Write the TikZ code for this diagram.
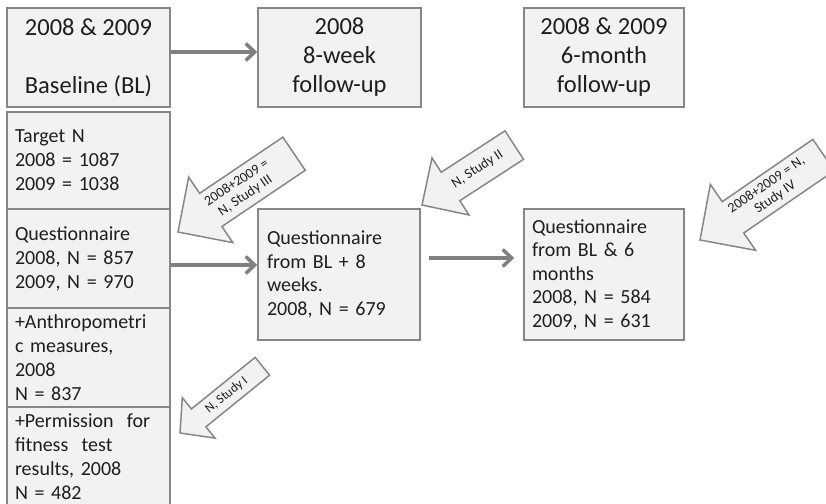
\documentclass[tikz,border=0pt]{standalone}
\usepackage{fontspec}
\setmainfont{Carlito}
\usetikzlibrary{arrows.meta,calc}

\definecolor{boxfill}{HTML}{F2F2F2}
\definecolor{boxline}{HTML}{878787}
\definecolor{connline}{HTML}{808080}
\definecolor{inktext}{HTML}{1E1E1E}

% Block arrow: #1 tip, #2 angle, #3 shaft half width, #4 head half width,
% #5 head length, #6 total length, #7 label position along the arrow,
% #8 label name, #9 label text
\newcommand\blockarrow[9]{%
  \begin{scope}[shift={#1},rotate=#2]
    \draw[fatarrow] (0pt,0pt) -- (#5pt,#4pt) -- (#5pt,#3pt) -- (#6pt,#3pt)
      -- (#6pt,-#3pt) -- (#5pt,-#3pt) -- (#5pt,-#4pt) -- cycle;
    \node[arrowlabel,rotate=#2] (#8) at (#7pt,0pt) {#9};
  \end{scope}}

\tikzset{
  box/.style={draw=boxline,fill=boxfill,line width=1.5pt,inner sep=0pt,
    text=inktext},
  headbox/.style={box,align=center,minimum height=99pt,
    font=\fontsize{24.5}{29}\selectfont},
  colbox/.style={box,minimum width=163pt,text width=147pt,align=left,
    font=\fontsize{20}{24}\selectfont},
  studybox/.style={box,minimum height=131pt,align=left,
    font=\fontsize{20}{23.5}\selectfont},
  conn/.style={draw=connline,line width=3.5pt,
    -{Straight Barb[length=9pt,width=17pt]}},
  fatarrow/.style={draw=boxline,fill=boxfill,line width=1.5pt,line join=miter},
  arrowlabel/.style={inner sep=0pt,align=center,text=inktext,
    font=\fontsize{14}{15.5}\selectfont},
}

\begin{document}
\begin{tikzpicture}[x=1pt,y=-1pt]
\useasboundingbox (0,0) rectangle (826,503);
\fill[white] (0,0) rectangle (826,503);

% time points
\node[headbox,minimum width=163pt] (bl) at (88.5,57.5)
  {2008 \& 2009\\~\\Baseline (BL)};
\node[headbox,minimum width=163pt] (wk8) at (339.5,57.5)
  {2008\\8-week\\follow-up};
\node[headbox,minimum width=160pt] (mon6) at (604,57.5)
  {2008 \& 2009\\6-month\\follow-up};

% baseline column
\node[colbox,minimum height=97pt] (target) at (88.5,160.5)
  {Target N\\2008 = 1087\\2009 = 1038};
\node[colbox,minimum height=99pt] (quest) at (88.5,258.5)
  {Questionnaire\\2008, N = 857\\2009, N = 970};
\node[colbox,minimum height=99pt] (anthro) at (88.5,357.5)
  {+Anthropometri\\c measures,\\2008\\N = 837};
\node[colbox,minimum height=99pt] (permit) at (88.5,456.5)
  {+Permission\ \ for\\fitness\ \ test\\results, 2008\\N = 482};

% follow-up questionnaires
\node[studybox,minimum width=162pt,text width=144pt] (mid) at (339,274.5)
  {Questionnaire\\from BL + 8\\weeks.\\2008, N = 679};
\node[studybox,minimum width=160pt,text width=144pt] (right) at (604,274.5)
  {Questionnaire\\from BL \& 6\\months\\2008, N = 584\\2009, N = 631};

% flow between time points
\draw[conn] ([yshift=5.5pt]bl.east) -- ([yshift=5.5pt]wk8.west);
\coordinate (qout) at ([yshift=-6.5pt]quest.east);
\draw[conn] (qout) -- (qout -| mid.west);
\coordinate (mout) at ([yshift=16.5pt]mid.east);
\draw[conn,shorten <=8pt,shorten >=9pt] (mout) -- (mout -| right.west);

% study samples
\blockarrow{(178,232)}{34}{20}{39.5}{39.5}{140}{76}{studyIII}
  {2008+2009 =\\N, Study III}
\blockarrow{(422,205)}{33}{17}{34}{34}{110}{66}{studyII}
  {N, Study II}
\blockarrow{(700,240)}{34.5}{19}{40}{40}{150}{86}{studyIV}
  {2008+2009 = N,\\Study IV}
\blockarrow{(180,433)}{39}{11.5}{26}{24}{106}{60}{studyI}
  {\fontsize{13}{14}\selectfont N, Study I}
\end{tikzpicture}
\end{document}
